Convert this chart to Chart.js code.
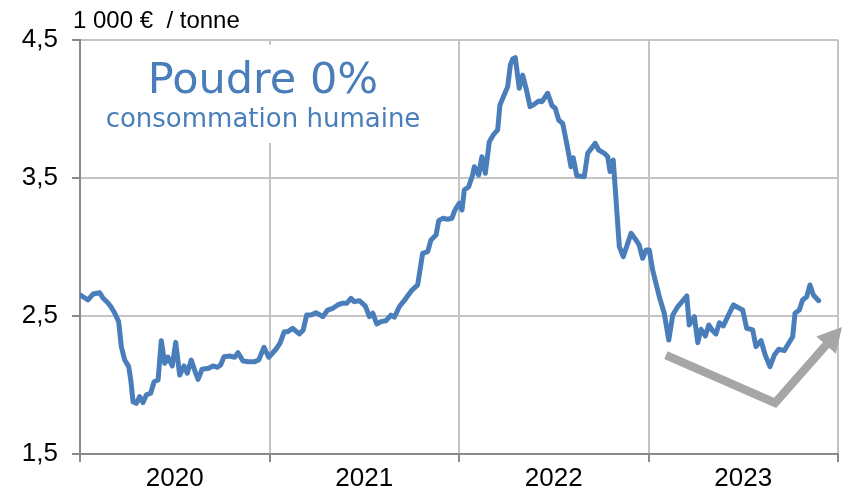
<!DOCTYPE html>
<html>
<head>
<meta charset="utf-8">
<script src="https://cdn.jsdelivr.net/npm/chart.js@4"></script>
<style>
  html, body { margin: 0; padding: 0; background: #fff; }
  #wrap { width: 844px; height: 490px; }
</style>
</head>
<body>
<div id="wrap"><canvas id="c" width="844" height="490"></canvas></div>
<script>
// prix hebdo, abscisse en années décimales depuis janvier 2020
const WEEK_X = [
  0.002, 0.042, 0.069, 0.104, 0.121, 0.148, 0.164, 0.183, 0.204, 0.218, 0.236, 0.257, 0.268, 0.280,
  0.297, 0.315, 0.332, 0.350, 0.373, 0.391, 0.412, 0.429, 0.447, 0.464, 0.487, 0.505, 0.526, 0.549,
  0.566, 0.587, 0.608, 0.623, 0.644, 0.679, 0.702, 0.725, 0.742, 0.760, 0.790, 0.816, 0.834, 0.860,
  0.890, 0.922, 0.943, 0.971, 0.996,
  1.034, 1.055, 1.078, 1.096, 1.122, 1.157, 1.178, 1.196, 1.219, 1.245, 1.281, 1.307, 1.334, 1.360,
  1.383, 1.407, 1.430, 1.447, 1.474, 1.506, 1.527, 1.545, 1.566, 1.588, 1.615, 1.641, 1.659, 1.685,
  1.720, 1.752, 1.782, 1.808, 1.835, 1.852, 1.879, 1.893, 1.914, 1.940, 1.963, 1.975,
  1.984, 2.002, 2.016, 2.028, 2.051, 2.072, 2.081, 2.104, 2.121, 2.139, 2.160, 2.181, 2.204, 2.216,
  2.231, 2.257, 2.271, 2.283, 2.297, 2.318, 2.336, 2.354, 2.375, 2.397, 2.421, 2.438, 2.468, 2.491,
  2.508, 2.526, 2.547, 2.570, 2.591, 2.603, 2.621, 2.661, 2.679, 2.719, 2.737, 2.767, 2.785, 2.797,
  2.814, 2.846, 2.867, 2.908, 2.934, 2.951, 2.969, 2.987, 3.004,
  3.022, 3.057, 3.083, 3.107, 3.128, 3.154, 3.177, 3.202, 3.215, 3.242, 3.260, 3.277, 3.300, 3.318,
  3.339, 3.356, 3.374, 3.395, 3.418, 3.448, 3.479, 3.497, 3.518, 3.550, 3.567, 3.594, 3.616, 3.641,
  3.664, 3.687, 3.717, 3.734, 3.761, 3.773, 3.796, 3.813, 3.835, 3.852, 3.870, 3.898
];
const PRICE = [
  2.652, 2.616, 2.659, 2.669, 2.630, 2.594, 2.565, 2.522, 2.459, 2.278, 2.181, 2.133, 2.036, 1.879,
  1.867, 1.915, 1.872, 1.928, 1.940, 2.024, 2.036, 2.321, 2.157, 2.203, 2.138, 2.309, 2.072, 2.138,
  2.085, 2.181, 2.096, 2.041, 2.114, 2.121, 2.138, 2.128, 2.145, 2.205, 2.210, 2.201, 2.234, 2.174,
  2.169, 2.169, 2.181, 2.273, 2.201,
  2.259, 2.302, 2.386, 2.386, 2.411, 2.370, 2.399, 2.507, 2.507, 2.524, 2.495, 2.543, 2.556, 2.580,
  2.592, 2.592, 2.628, 2.604, 2.611, 2.572, 2.495, 2.520, 2.442, 2.459, 2.466, 2.507, 2.491, 2.567,
  2.628, 2.688, 2.725, 2.954, 2.966, 3.051, 3.087, 3.191, 3.208, 3.201, 3.208, 3.256,
  3.280, 3.317, 3.268, 3.413, 3.437, 3.522, 3.582, 3.522, 3.654, 3.534, 3.763, 3.812, 3.848, 4.029,
  4.078, 4.162, 4.319, 4.362, 4.372, 4.150, 4.246, 4.150, 4.017, 4.034, 4.058, 4.053, 4.114, 4.024,
  4.005, 3.920, 3.896, 3.739, 3.582, 3.647, 3.517, 3.509, 3.679, 3.751, 3.703, 3.679, 3.654, 3.546,
  3.630, 3.002, 2.930, 3.099, 3.051, 3.014, 2.918, 2.978, 2.978,
  2.833, 2.640, 2.520, 2.326, 2.507, 2.567, 2.604, 2.645, 2.435, 2.495, 2.307, 2.404, 2.355, 2.435,
  2.393, 2.370, 2.451, 2.428, 2.495, 2.580, 2.556, 2.543, 2.411, 2.399, 2.278, 2.321, 2.217, 2.133,
  2.217, 2.259, 2.249, 2.290, 2.350, 2.520, 2.543, 2.616, 2.640, 2.725, 2.652, 2.611
];
const YEARS = ['2020', '2021', '2022', '2023'];
const Y_TICKS = [1.5, 2.5, 3.5, 4.5];
// flèche de tendance (années décimales / €)
const ARROW_X = [3.092, 3.668, 4.021];
const ARROW_Y = [2.217, 1.870, 2.420];

const BLUE = '#4a7ebb';
const GRID = '#c4c4c4';
const AXIS = '#8a8a8a';
const TICK_FONT = {family: "'Liberation Sans', Arial, sans-serif", size: 26};

const decor = {
  id: 'decor',
  beforeDatasetsDraw(chart) {
    const ctx = chart.ctx;
    ctx.save();
    // encadré blanc du titre
    ctx.fillStyle = '#fff';
    ctx.fillRect(95, 45, 340, 98);
    ctx.fillStyle = BLUE;
    ctx.textAlign = 'center';
    ctx.textBaseline = 'alphabetic';
    ctx.font = "43px 'DejaVu Sans', Verdana, sans-serif";
    ctx.fillText('Poudre 0%', 263, 93);
    ctx.font = "26px 'DejaVu Sans', Verdana, sans-serif";
    ctx.fillText('consommation humaine', 263, 127);
    ctx.restore();
  },
  afterDraw(chart) {
    const ctx = chart.ctx;
    const xs = chart.scales.x, ys = chart.scales.y;
    ctx.save();
    ctx.fillStyle = '#000';
    ctx.textAlign = 'left';
    ctx.textBaseline = 'alphabetic';
    ctx.font = "24px 'Liberation Sans', Arial, sans-serif";
    ctx.fillText('1 000 €  / tonne', 73, 28);

    // flèche grise
    const pts = ARROW_X.map((v, i) => [xs.getPixelForValue(2020 + v), ys.getPixelForValue(ARROW_Y[i])]);
    const [tx, ty] = pts[pts.length - 1];
    const [px, py] = pts[pts.length - 2];
    const ang = Math.atan2(ty - py, tx - px);
    const headLen = 24, headW = 13;
    const bx = tx - headLen * Math.cos(ang), by = ty - headLen * Math.sin(ang);
    ctx.strokeStyle = '#a6a6a6';
    ctx.fillStyle = '#a6a6a6';
    ctx.lineWidth = 8.5;
    ctx.lineJoin = 'miter';
    ctx.beginPath();
    ctx.moveTo(pts[0][0], pts[0][1]);
    for (let i = 1; i < pts.length - 1; i++) ctx.lineTo(pts[i][0], pts[i][1]);
    ctx.lineTo(bx + 2 * Math.cos(ang), by + 2 * Math.sin(ang));
    ctx.stroke();
    ctx.beginPath();
    ctx.moveTo(tx, ty);
    ctx.lineTo(bx + headW * Math.sin(ang), by - headW * Math.cos(ang));
    ctx.lineTo(bx - headW * Math.sin(ang), by + headW * Math.cos(ang));
    ctx.closePath();
    ctx.fill();
    ctx.restore();
  }
};

new Chart(document.getElementById('c'), {
  type: 'line',
  data: {
    datasets: [{
      data: WEEK_X.map((x, i) => ({x: 2020 + x, y: PRICE[i]})),
      borderColor: BLUE,
      borderWidth: 5,
      pointRadius: 0,
      tension: 0,
      borderJoinStyle: 'round',
      borderCapStyle: 'round'
    }]
  },
  options: {
    responsive: false,
    animation: false,
    layout: {padding: {top: 40, right: 6, bottom: 0, left: 0}},
    plugins: {legend: {display: false}, tooltip: {enabled: false}},
    scales: {
      x: {
        type: 'linear',
        min: 2020,
        max: 2024,
        afterBuildTicks: s => {
          const t = [];
          for (let y = 2020; y <= 2024; y += 0.5) t.push({value: y});
          s.ticks = t;
        },
        afterFit: s => { s.height = 36; },
        grid: {
          color: c => (c.tick && c.tick.value % 1 === 0 && c.tick.value !== 2020) ? GRID : 'rgba(0,0,0,0)',
          tickColor: c => (c.tick && c.tick.value % 1 === 0) ? AXIS : 'rgba(0,0,0,0)',
          lineWidth: 2,
          tickLength: 8,
          drawTicks: true
        },
        border: {color: AXIS, width: 2},
        ticks: {
          autoSkip: false,
          maxRotation: 0,
          padding: 1,
          color: '#000',
          font: TICK_FONT,
          callback: v => (v % 1 === 0.5 ? YEARS[Math.floor(v) - 2020] : '')
        }
      },
      y: {
        min: 1.5,
        max: 4.5,
        afterBuildTicks: s => { s.ticks = Y_TICKS.map(v => ({value: v})); },
        afterFit: s => { s.width = 80; },
        grid: {
          color: GRID,
          tickColor: AXIS,
          lineWidth: 2,
          tickLength: 8
        },
        border: {color: AXIS, width: 2},
        ticks: {
          padding: 14,
          color: '#000',
          font: TICK_FONT,
          callback: v => v.toFixed(1).replace('.', ',')
        }
      }
    }
  },
  plugins: [decor]
});
</script>
</body>
</html>
